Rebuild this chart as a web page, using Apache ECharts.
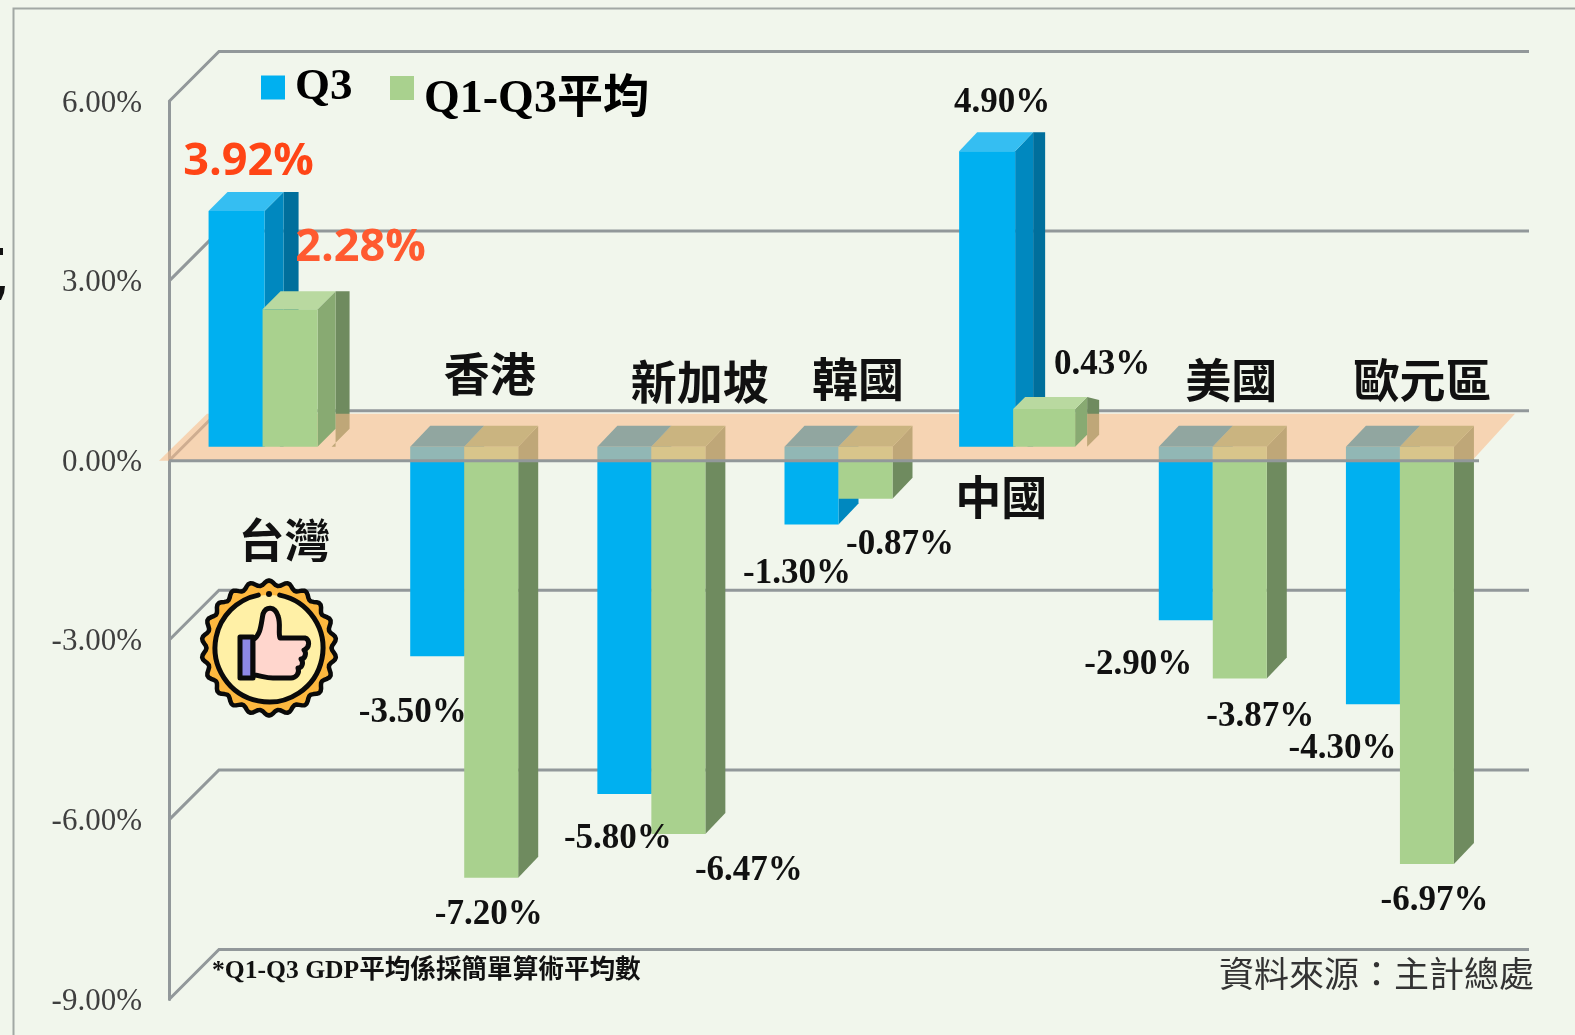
<!DOCTYPE html>
<html><head><meta charset="utf-8">
<style>html,body{margin:0;padding:0;background:#f1f6ec}#c{width:1575px;height:1035px}</style>
<script src="https://cdn.jsdelivr.net/npm/echarts@6/dist/echarts.min.js"></script>
</head><body><div id="c"></div>
<script>
// ---- data ----
const categories = ['台灣','香港','新加坡','韓國','中國','美國','歐元區'];
const q3Values   = [3.92,-3.50,-5.80,-1.30,4.90,-2.90,-4.30];
const avgValues  = [2.28,-7.20,-6.47,-0.87,0.43,-3.87,-6.97];
const yTicks     = [6,3,0,-3,-6,-9];
const footnote   = '*Q1-Q3 GDP平均係採簡單算術平均數';
const sourceNote = '資料來源：主計總處';

// ---- layout (offsets from the library's coordinates, no data) ----
const WALL = 50, BASE_LIFT = 14;
const seamShift = [0,14.5,14.5,14.5,2,14.5,14.5];
const q3Nudge   = [2,0,0,0,2,0,0];
const q3Width   = [56,54,54,54,56,54,54];
const avgWidth  = [55,54,54,54,62,54,54];
const q3TipLift  = [1,0,0,0,2,0,0];
const avgTipLift = [1,0,0,0,12,0,0];
const depthPos  = {q3:[19,-19,15], avg:[18,-18,14]};
const depthNeg  = [20,-21];
const q3LabelOff  = [[-14,-64],[-37,43],[-19,31],[-27,35],[-9,-64],[-60,31],[-43,31]];
const avgLabelOff = [[98,-76],[39,23],[112,23],[76,32],[91,-70],[62,25],[49,23]];
const nameOff = [[22,79],[40,-87],[63,-79],[34,-82],[-10,36],[33,-81],[37,-81]];

const BLUE = {front:'#00b0f0',top:'#35bef2',side:'#0088bf',dark:'#006f9c'};
const GREEN= {front:'#a9d18e',top:'#b9d9a0',side:'#88aa72',dark:'#6f8b5f'};
const SERIF = '"Liberation Serif","Noto Sans CJK TC",serif';
const CJK = '"Noto Sans CJK TC","Noto Sans",sans-serif';

function poly(points, fill, z2){
  return {type:'polygon', shape:{points}, style:{fill}, z2, silent:true};
}
function barRenderer(kind){
  const pal = kind==='q3'?BLUE:GREEN;
  const widths = kind==='q3'?q3Width:avgWidth;
  const labelOff = kind==='q3'?q3LabelOff:avgLabelOff;
  const tipLift = kind==='q3'?q3TipLift:avgTipLift;
  return function(params, api){
    const i = api.value(0), v = api.value(1);
    const c = api.coord([i, v]), c0 = api.coord([i, 0]);
    const seam = c0[0] + seamShift[i];
    const w = widths[i];
    const x0 = kind==='q3' ? seam - w + q3Nudge[i] : seam;
    const x1 = x0 + w;
    const base = c0[1] - BASE_LIFT, tip = c[1] - BASE_LIFT - tipLift[i];
    const order = kind==='q3'?0:1;
    const children = [];
    if (v >= 0) {
      let d = depthPos[kind];
      if (kind==='avg' && i===4) d = [12,-12,12];
      if (kind==='q3' && i===4) d = [18,-19,12];
      const [dx,dy,band] = d, z = 20 + order*2;
      children.push(poly([[x1+dx,tip+dy],[x1+dx+band,tip+dy+(i===4&&kind==='avg'?3:0)],[x1+dx+band,base+dy],[x1+band,base],[x1+dx,base]],pal.dark,2));
      children.push(poly([[x1,tip],[x1+dx,tip+dy],[x1+dx,base+dy],[x1,base]],pal.side,z));
      children.push(poly([[x0,tip],[x1,tip],[x1+dx,tip+dy],[x0+dx,tip+dy]],pal.top,z));
      children.push(poly([[x0,tip],[x1,tip],[x1,base],[x0,base]],pal.front,z+1));
    } else {
      const [dx,dy] = depthNeg, z = 2 + order*2;
      children.push(poly([[x1,base],[x1+dx,base+dy],[x1+dx,tip+dy],[x1,tip]],kind==='q3'?pal.side:pal.dark,z));
      children.push(poly([[x0,base],[x1,base],[x1+dx,base+dy],[x0+dx,base+dy]],pal.side,z));
      children.push(poly([[x0,base],[x1,base],[x1,tip],[x0,tip]],pal.front,z+1));
    }
    const off = labelOff[i];
    const isHero = i===0;
    children.push({type:'text', z2:60, silent:true, style:{
      x:c0[0]+off[0], y:c[1]+off[1], text:v.toFixed(2)+'%', align:'center', verticalAlign:'middle',
      fill:isHero?(kind==='q3'?'#ff4516':'#ff5a30'):'#111',
      font:isHero?'bold 45px "Open Sans","Liberation Sans",sans-serif':'bold 35px '+SERIF
    }});
    return {type:'group', children};
  };
}

function badgeChildren(cx,cy){
  const pts=[], n=22;
  for(let a=0;a<360;a+=2){
    const t=a*Math.PI/180, r=65+2.5*Math.cos(n*t);
    pts.push([cx+r*Math.sin(t),cy-r*Math.cos(t)]);
  }
  const K='#0a0a0a';
  return [
    {type:'polygon', z2:70, shape:{points:pts}, style:{fill:'#fdb83f',stroke:K,lineWidth:4.5,lineJoin:'round'}},
    {type:'circle', z2:71, shape:{cx,cy,r:53}, style:{fill:'#fff0a6'}},
    {type:'arc', z2:72, shape:{cx,cy,r:54,startAngle:-Math.PI/2+0.2,endAngle:-Math.PI/2-0.2,clockwise:true}, style:{fill:null,stroke:K,lineWidth:5,lineCap:'round'}},
    {type:'circle', z2:72, shape:{cx,cy:cy-54,r:3}, style:{fill:K}},
    {type:'rect', z2:72, shape:{x:cx-29,y:cy-11,width:13,height:41}, style:{fill:'#8d88e6',stroke:K,lineWidth:5,lineJoin:'round'}},
    {type:'group', x:cx, y:cy, children:[
      {type:'path', z2:73, shape:{pathData:'M-16,-8 C-8,-13 -8,-24 -6,-34 C-3,-42 6,-42 9,-32 C12,-24 9,-16 11,-10 L36,-10 C41,-9 41,0 35,2 C38,5 36,11 32,11 C35,15 33,20 29,20 C31,25 27,30 22,30 L4,30 C-4,30 -10,27 -16,27 Z'},
       style:{fill:'#ffd6cd',stroke:K,lineWidth:5,lineJoin:'round'}}
    ]}
  ];
}

const option = {
  animation:false,
  backgroundColor:'#f1f6ec',
  textStyle:{fontFamily:SERIF},
  grid:{left:169, top:101.5, width:1310, height:898},
  xAxis:{type:'category', data:categories, show:false},
  yAxis:{type:'value', min:-9, max:6, interval:3,
    axisLine:{show:true, onZero:false, lineStyle:{color:'#92989a', width:3}},
    axisTick:{show:false}, splitLine:{show:false},
    axisLabel:{margin:27, formatter:v=>'{a|'+v.toFixed(2)+'%}',
      rich:{a:{color:'#3f3f3f', fontFamily:SERIF, fontSize:31, padding:[4,0,0,0]}}}},
  legend:[
    {data:['Q3'], left:256, top:60, itemWidth:24, itemHeight:24, icon:'rect',
     formatter:'{a|{name}}',
     textStyle:{rich:{a:{fontFamily:SERIF, fontWeight:'bold', fontSize:45, color:'#000', padding:[0,0,0,5]}}}},
    {data:['Q1-Q3平均'], left:385, top:71, itemWidth:24, itemHeight:24, icon:'rect',
     formatter:'{a|{name}}',
     textStyle:{rich:{a:{fontFamily:SERIF, fontWeight:'bold', fontSize:46, color:'#000', padding:[24,0,0,5]}}}}
  ],
  series:[
    {type:'custom', name:'grid', coordinateSystem:'cartesian2d', silent:true,
     data:yTicks.map(v=>[0,v]),
     renderItem(params, api){
       const v = api.value(1);
       const y = api.coord([0,v])[1], r = params.coordSys;
       const xl = r.x, xr = r.x + r.width + WALL;
       const style = {stroke:'#92989a', lineWidth:3, fill:null};
       const children = [{type:'polyline', z2:0, shape:{points:[[xl,y],[xl+WALL,y-WALL],[xr,y-WALL]]}, style}];
       if (v===0) {
         const top = y-47, bot = y;
         children.push({type:'polygon', z2:10,
           shape:{points:[[xl-10,bot],[xl+38,top],[xr-14,top],[r.x+r.width-7,bot]]},
           style:{fill:'rgba(250,187,138,0.58)'}});
         children.push({type:'line', z2:12,
           shape:{x1:xl,y1:y,x2:r.x+r.width,y2:y}, style:{stroke:'#92989a',lineWidth:3}});
       }
       return {type:'group', children};
     }},
    {type:'custom', name:'Q3', coordinateSystem:'cartesian2d', itemStyle:{color:BLUE.front},
     data:q3Values.map((v,i)=>[i,v]), renderItem:barRenderer('q3')},
    {type:'custom', name:'Q1-Q3平均', coordinateSystem:'cartesian2d', itemStyle:{color:GREEN.front},
     data:avgValues.map((v,i)=>[i,v]), renderItem:barRenderer('avg')},
    {type:'custom', name:'names', coordinateSystem:'cartesian2d', silent:true,
     data:categories.map((c,i)=>[i,0]),
     renderItem(params, api){
       const i = api.value(0), c = api.coord([i,0]), o = nameOff[i];
       return {type:'text', z2:60, style:{x:c[0]+o[0], y:c[1]+o[1], text:categories[i],
         align:'center', verticalAlign:'middle', fill:'#111', font:'bold 46px '+CJK}};
     }},
    {type:'custom', name:'badge', coordinateSystem:'none', silent:true, data:[[0]],
     renderItem(){ return {type:'group', children:badgeChildren(269,648)}; }}
  ],
  graphic:[
    {type:'rect', silent:true, shape:{x:13.5,y:8.5,width:1700,height:1200}, style:{fill:null,stroke:'#a2a8a4',lineWidth:2}, z:1},
    {type:'rect', silent:true, shape:{x:0,y:248,width:3,height:7}, style:{fill:'#111'}},
    {type:'polygon', silent:true, shape:{points:[[0,286],[5,286],[4,293],[1,300],[0,300]]}, style:{fill:'#111'}},
    {type:'text', silent:true, style:{x:212,y:971,text:footnote,verticalAlign:'middle',fill:'#111',font:'bold 25.6px '+SERIF}, z:50},
    {type:'text', silent:true, style:{x:1534,y:974,text:sourceNote,align:'right',verticalAlign:'middle',fill:'#333',font:'35px '+CJK}, z:50}
  ]
};

echarts.init(document.getElementById('c'),null,{renderer:'canvas'}).setOption(option);
</script></body></html>
